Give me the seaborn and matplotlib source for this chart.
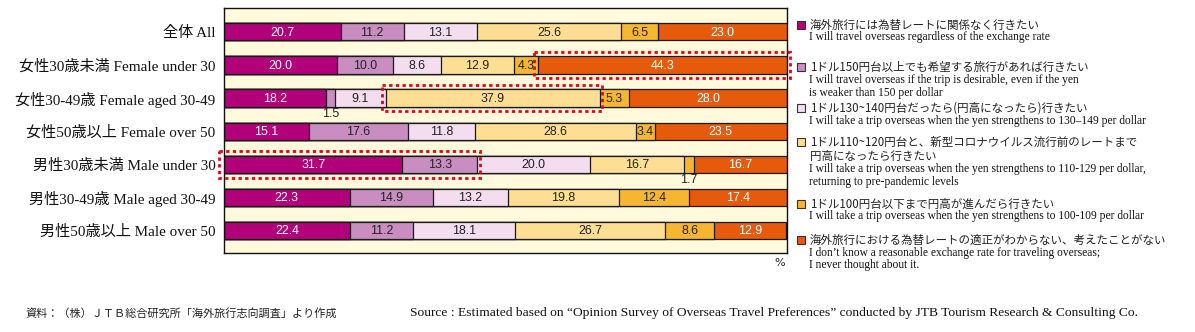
import numpy as np
import pandas as pd
import matplotlib
matplotlib.use("Agg")
import matplotlib.pyplot as plt
from matplotlib import font_manager as fm
from matplotlib.patches import Rectangle
import seaborn as sns

# ---------------- data ----------------
categories = ["全体 All", "女性30歳未満 Female under 30", "女性30-49歳 Female aged 30-49",
              "女性50歳以上 Female over 50", "男性30歳未満 Male under 30",
              "男性30-49歳 Male aged 30-49", "男性50歳以上 Male over 50"]
seg_regardless = [20.7, 20.0, 18.2, 15.1, 31.7, 22.3, 22.4]
seg_150 = [11.2, 10.0, 1.5, 17.6, 13.3, 14.9, 11.2]
seg_130 = [13.1, 8.6, 9.1, 11.8, 20.0, 13.2, 18.1]
seg_110 = [25.6, 12.9, 37.9, 28.6, 16.7, 19.8, 26.7]
seg_100 = [6.5, 4.3, 5.3, 3.4, 1.7, 12.4, 8.6]
seg_unknown = [23.0, 44.3, 28.0, 23.5, 16.7, 17.4, 12.9]

legend_jp = [["海外旅行には為替レートに関係なく行きたい"],
             ["1ドル150円台以上でも希望する旅行があれば行きたい"],
             ["1ドル130~140円台だったら(円高になったら)行きたい"],
             ["1ドル110~120円台と、新型コロナウイルス流行前のレートまで", "円高になったら行きたい"],
             ["1ドル100円台以下まで円高が進んだら行きたい"],
             ["海外旅行における為替レートの適正がわからない、考えたことがない"]]
legend_en = [["I will travel overseas regardless of the exchange rate"],
             ["I will travel overseas if the trip is desirable, even if the yen",
              "is weaker than 150 per dollar"],
             ["I will take a trip overseas when the yen strengthens to 130\u2013149 per dollar"],
             ["I will take a trip overseas when the yen strengthens to 110-129 per dollar,",
              "returning to pre-pandemic levels"],
             ["I will take a trip overseas when the yen strengthens to 100-109 per dollar"],
             ["I don\u2019t know a reasonable exchange rate for traveling overseas;",
              "I never thought about it."]]
# highlighted (row, first segment, last segment)
highlights = [(1, 5, 5), (2, 3, 3), (4, 0, 1)]
source_jp = "資料：（株）ＪＴＢ総合研究所「海外旅行志向調査」より作成"
source_en = ("Source : Estimated based on \u201cOpinion Survey of Overseas Travel Preferences\u201d "
             "conducted by JTB Tourism Research & Consulting Co.")

colors = ["#B2007B", "#C98DC2", "#F3DDEF", "#FDDE92", "#F6B632", "#E65A0C"]
label_colors = ["white", "#222222", "#222222", "#222222", "#222222", "white"]

# ---------------- style ----------------
sns.set_theme(style="white")
avail = {f.name for f in fm.fontManager.ttflist}
narrow = "Liberation Sans Narrow" if "Liberation Sans Narrow" in avail else "Liberation Sans"
val_fs = 9.8 if narrow == "Liberation Sans Narrow" else 8.9
SERIF = ["Liberation Serif", "Noto Sans CJK JP"]
JP = ["Noto Sans CJK JP", "DejaVu Sans"]
plt.rcParams["font.family"] = SERIF

segs = np.array([seg_regardless, seg_150, seg_130, seg_110, seg_100, seg_unknown]).T
cum = np.cumsum(segs, axis=1)

W, H = 1195, 332
fig = plt.figure(figsize=(W / 100, H / 100), dpi=100)
ax = fig.add_axes([224 / W, 1 - 253 / H, (787 - 224) / W, (253 - 8) / H])
ax.set_facecolor("#FFFADC")

df = pd.DataFrame({"cat": categories})
for k in range(5, -1, -1):
    df["v"] = cum[:, k]
    sns.barplot(data=df, x="v", y="cat", orient="h", color=colors[k], saturation=1,
                width=0.52, edgecolor="#1a1a1a", linewidth=0.9, ax=ax)

ax.set_xlim(0, 100)
ax.set_ylim(6.68, -0.72)
ax.set_xlabel("")
ax.set_ylabel("")
ax.set_xticks([])
ax.tick_params(axis="y", length=0, pad=6)
for lab in ax.get_yticklabels():
    lab.set_fontsize(10.9)
    lab.set_color("#111111")
for s in ax.spines.values():
    s.set_color("#111111")
    s.set_linewidth(1.0)

# value labels
for i in range(len(categories)):
    for k in range(6):
        v = segs[i, k]
        left = cum[i, k] - v
        xc = left + v / 2
        if v < 2.0:
            ax.text(xc, i + 0.47, f"{v:.1f}", ha="center", va="center", fontsize=val_fs,
                    family=narrow, color="#222222")
        else:
            ax.text(xc, i + 0.03, f"{v:.1f}", ha="center", va="center", fontsize=val_fs,
                    family=narrow, color=label_colors[k])

# highlight boxes
for (r, a, b) in highlights:
    x0 = cum[r, a] - segs[r, a] - 0.8
    x1 = cum[r, b] + 0.5
    rect = Rectangle((x0, r - 0.4), x1 - x0, 0.8, fill=False, edgecolor="#E3001B",
                     linestyle=(0, (1.2, 1.2)), linewidth=2.0, clip_on=False, zorder=6)
    ax.add_patch(rect)

fig.text(780 / W, 1 - 263 / H, "%", ha="center", va="center", fontsize=8,
         family=["DejaVu Sans"], color="#222222")

# legend (manual, two-language): pixel rows of each text line
jp_rows = [[25], [67], [108], [142, 156], [204], [240]]
en_rows = [[37], [80, 93], [121], [169, 182], [216], [253, 265]]
for k in range(6):
    y0 = jp_rows[k][0]
    fig.patches.append(Rectangle((797 / W, 1 - (y0 + 4) / H), 8 / W, 8 / H,
                                 transform=fig.transFigure, facecolor=colors[k],
                                 edgecolor="#333333", linewidth=0.8))
    for line, y in zip(legend_jp[k], jp_rows[k]):
        fig.text(810 / W, 1 - y / H, line, ha="left", va="center", fontsize=8.3,
                 family=JP, color="#222222")
    for line, y in zip(legend_en[k], en_rows[k]):
        fig.text(809 / W, 1 - y / H, line, ha="left", va="center", fontsize=8.3,
                 family=SERIF, color="#111111")

fig.text(25 / W, 1 - 313 / H, source_jp, ha="left", va="center", fontsize=8.0,
         family=JP, color="#222222")
fig.text(410 / W, 1 - 313 / H, source_en, ha="left", va="center", fontsize=9.7,
         family=SERIF, color="#111111")

fig.savefig("out.png", dpi=100, facecolor="white")
